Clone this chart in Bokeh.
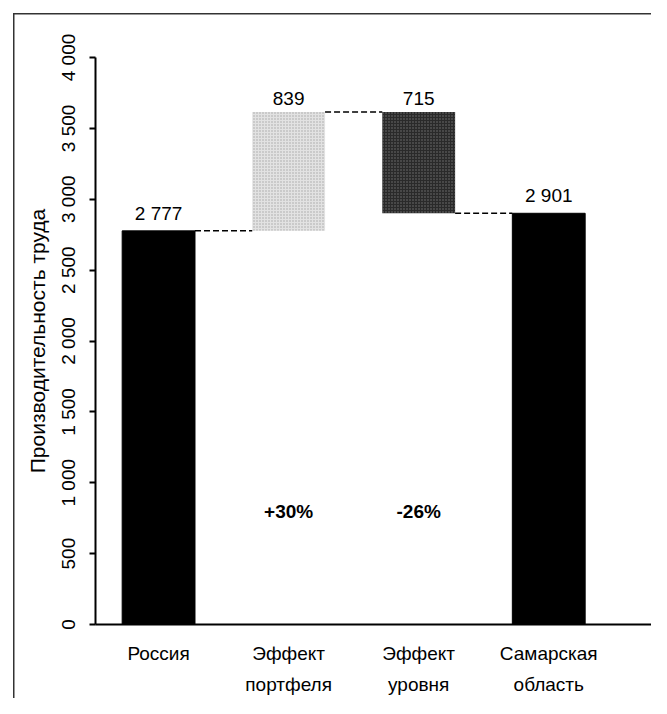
from bokeh.plotting import figure
from bokeh.models import ColumnDataSource, FixedTicker, Range1d
from bokeh.core.properties import value
from bokeh.embed import file_html
from bokeh.resources import INLINE

# ---- data ----
categories = ["Россия", "Эффект портфеля", "Эффект уровня", "Самарская область"]
category_labels = ["Россия", "Эффект\nпортфеля", "Эффект\nуровня", "Самарская\nобласть"]
kinds = ["total", "delta", "delta", "total"]
values = [2777, 839, -715, 2901]
value_labels = ["2 777", "839", "715", "2 901"]
pct_labels = ["", "+30%", "-26%", ""]
y_ticks = [0, 500, 1000, 1500, 2000, 2500, 3000, 3500, 4000]
y_tick_labels = ["0", "500", "1 000", "1 500", "2 000", "2 500", "3 000", "3 500", "4 000"]
y_title = "Производительность труда"

FONT = "Liberation Sans"
FS = "19px"
BAR_W = 0.56
PCT_Y = 800

# waterfall geometry derived from data
xs = list(range(1, len(categories) + 1))
bottoms, tops, ends = [], [], []
running = 0
for k, v in zip(kinds, values):
    if k == "total":
        b, t = 0, v
        running = v
    else:
        start = running
        running = running + v
        b, t = min(start, running), max(start, running)
    bottoms.append(b)
    tops.append(t)
    ends.append(running)

p = figure(width=651, height=698, output_backend="svg", toolbar_location=None,
           x_range=Range1d(0.515, 4.79), y_range=Range1d(0, 4000),
           min_border_left=95, min_border_right=0, min_border_top=57, min_border_bottom=71)
# outer frame (left and top edges, as in the scanned original)
p.styles = {
    "background": ("linear-gradient(#333, #333) 13px 13px / 1.5px 100% no-repeat, "
                   "linear-gradient(#333, #333) 13px 13px / 100% 1.5px no-repeat, white"),
}
p.border_fill_color = None
p.outline_line_color = None
p.xgrid.visible = False
p.ygrid.visible = False
p.background_fill_color = "white"

tot_idx = [i for i, k in enumerate(kinds) if k == "total"]
del_idx = [i for i, k in enumerate(kinds) if k == "delta"]

tot_src = ColumnDataSource(dict(x=[xs[i] for i in tot_idx], b=[bottoms[i] for i in tot_idx],
                                t=[tops[i] for i in tot_idx]))
p.vbar(x="x", bottom="b", top="t", width=BAR_W, source=tot_src, fill_color="black", line_color="black")

del_colors = ["#e2e2e2", "#2a2a2a"]
del_hatch = ["#999999", "#8a8a8a"]
del_src = ColumnDataSource(dict(x=[xs[i] for i in del_idx], b=[bottoms[i] for i in del_idx],
                                t=[tops[i] for i in del_idx], c=del_colors, hc=del_hatch))
p.vbar(x="x", bottom="b", top="t", width=BAR_W, source=del_src, fill_color="c", line_color=None,
       hatch_pattern="dot", hatch_color="hc", hatch_scale=3, hatch_weight=0.7, hatch_alpha=0.8)

# connectors
seg = ColumnDataSource(dict(x0=[xs[i] + BAR_W / 2 for i in range(len(xs) - 1)],
                            x1=[xs[i + 1] - BAR_W / 2 for i in range(len(xs) - 1)],
                            y=[ends[i] for i in range(len(xs) - 1)]))
p.segment(x0="x0", y0="y", x1="x1", y1="y", source=seg, line_color="black",
          line_width=1.5, line_dash="6 3")

# value labels
lab = ColumnDataSource(dict(x=xs, y=tops, t=value_labels))
p.text(x="x", y="y", text="t", source=lab, text_align="center", text_baseline="bottom",
       y_offset=-7, text_font=value(FONT), text_font_size=FS, text_color="black")

pct = ColumnDataSource(dict(x=[xs[i] for i in range(len(xs)) if pct_labels[i]],
                            y=[PCT_Y] * sum(1 for s in pct_labels if s),
                            t=[s for s in pct_labels if s]))
p.text(x="x", y="y", text="t", source=pct, text_align="center", text_baseline="middle",
       text_font=value(FONT), text_font_size=FS, text_font_style="bold", text_color="black")

# axes
p.xaxis.ticker = FixedTicker(ticks=xs)
p.xaxis.major_label_overrides = {x: l for x, l in zip(xs, category_labels)}
p.xaxis.major_tick_line_color = None
p.xaxis.minor_tick_line_color = None
p.xaxis.axis_line_color = "black"
p.xaxis.axis_line_width = 2
p.xaxis.major_label_standoff = 12
p.xaxis.major_label_text_font = FONT
p.xaxis.major_label_text_font_size = FS
p.xaxis.major_label_text_line_height = 1.5
p.xaxis.major_label_text_color = "black"

p.yaxis.ticker = FixedTicker(ticks=y_ticks)
p.yaxis.major_label_overrides = {t: l for t, l in zip(y_ticks, y_tick_labels)}
p.yaxis.major_label_orientation = "vertical"
p.yaxis.minor_tick_line_color = None
p.yaxis.major_tick_out = 6
p.yaxis.major_tick_in = 0
p.yaxis.major_tick_line_width = 2
p.yaxis.axis_line_width = 2
p.yaxis.axis_line_color = "black"
p.yaxis.major_label_standoff = 11
p.yaxis.major_label_text_font = FONT
p.yaxis.major_label_text_font_size = FS
p.yaxis.major_label_text_color = "black"
p.yaxis.axis_label = y_title
p.yaxis.axis_label_standoff = 6
p.yaxis.axis_label_text_font = FONT
p.yaxis.axis_label_text_font_size = "21px"
p.yaxis.axis_label_text_font_style = "normal"
p.yaxis.axis_label_text_color = "black"

open("out.html", "w").write(file_html(p, INLINE))
